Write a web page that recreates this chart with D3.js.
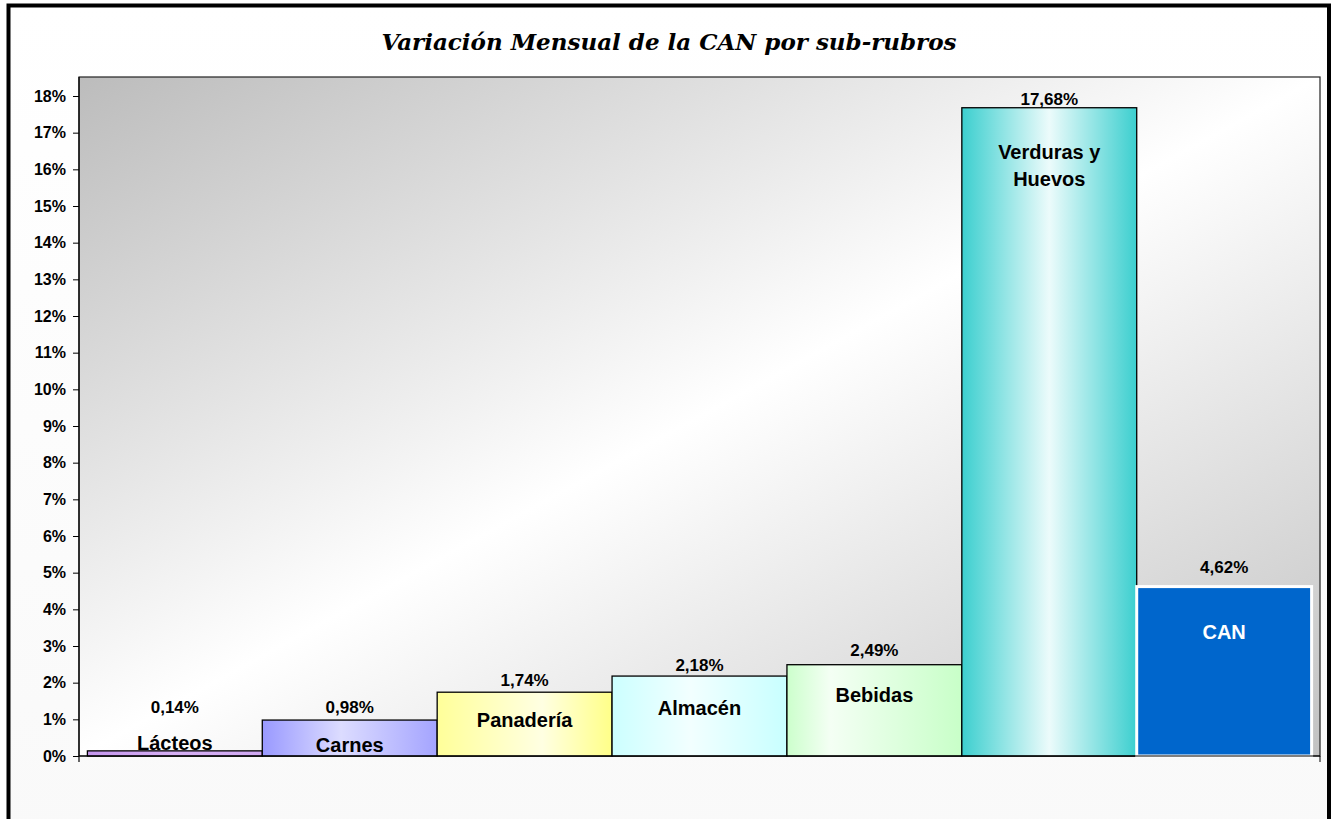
<!DOCTYPE html>
<html>
<head>
<meta charset="utf-8">
<script src="https://cdn.jsdelivr.net/npm/d3@7"></script>
<style>
  body { margin: 0; background: #fff; }
  text { font-family: Arial, "Liberation Sans", sans-serif; font-weight: bold; }
</style>
</head>
<body>
<div id="chart"></div>
<script>
// Datos
const categories = ['Lácteos', 'Carnes', 'Panadería', 'Almacén', 'Bebidas', 'Verduras y Huevos', 'CAN'];
const values = [0.14, 0.98, 1.74, 2.18, 2.49, 17.68, 4.62];
const yTicks = [0, 1, 2, 3, 4, 5, 6, 7, 8, 9, 10, 11, 12, 13, 14, 15, 16, 17, 18];
const title = 'Variación Mensual de la CAN por sub-rubros';

// Estilos por barra (gradientes horizontales)
const barFills = [
    [[0, '#c596ee'], [0.5, '#d6b0f4'], [1, '#d0a8f2']],
    [[0, '#9999ff'], [0.45, '#dcdcff'], [1, '#a4a4ff']],
    [[0, '#ffff99'], [0.6, '#ffffe2'], [1, '#ffff88']],
    [[0, '#ccffff'], [0.45, '#f2ffff'], [1, '#c8ffff']],
    [[0, '#ccffcc'], [0.25, '#f4fff4'], [1, '#c8ffc8']],
    [[0, '#3ccfcf'], [0.5, '#ecfbfb'], [1, '#3ccfcf']],
    null
];
const nameDy = [-1, 32, 35, 39, 37, 51, 52];
const valueDy = [-38, -7, -6, -5, -9, -3, -14];

const W = 1335, H = 819;
const plot = { left: 79, right: 1320, top: 77, bottom: 756 };

const svg = d3.select('#chart')
    .append('svg')
    .attr('width', W)
    .attr('height', H);

const defs = svg.append('defs');

// fondo del gráfico
const bgGrad = defs.append('linearGradient')
    .attr('id', 'bgGrad')
    .attr('x1', 0).attr('y1', 0).attr('x2', 0).attr('y2', 1);
bgGrad.append('stop').attr('offset', 0).attr('stop-color', '#ffffff');
bgGrad.append('stop').attr('offset', 1).attr('stop-color', '#f9f9f9');

// fondo del área de trazado (diagonal gris - blanco - gris)
const plotGrad = defs.append('linearGradient')
    .attr('id', 'plotGrad')
    .attr('x1', 0).attr('y1', 0).attr('x2', 1).attr('y2', 1);
plotGrad.append('stop').attr('offset', 0).attr('stop-color', '#bcbcbc');
plotGrad.append('stop').attr('offset', 0.5).attr('stop-color', '#ffffff');
plotGrad.append('stop').attr('offset', 1).attr('stop-color', '#c2c2c2');

barFills.forEach((stops, i) => {
    if (!stops) return;
    const g = defs.append('linearGradient')
        .attr('id', 'bar' + i)
        .attr('x1', 0).attr('y1', 0).attr('x2', 1).attr('y2', 0);
    stops.forEach(s => g.append('stop').attr('offset', s[0]).attr('stop-color', s[1]));
});

// marco exterior
svg.append('rect')
    .attr('x', 8.5)
    .attr('y', 5.5)
    .attr('width', 1320.5)
    .attr('height', 840)
    .attr('fill', 'url(#bgGrad)')
    .attr('stroke', '#000')
    .attr('stroke-width', 4);

// título
svg.append('text')
    .attr('x', 669)
    .attr('y', 50)
    .attr('text-anchor', 'middle')
    .style('font-family', '"DejaVu Serif", serif')
    .style('font-style', 'italic')
    .style('font-size', '23px')
    .text(title);

// escalas
const x = d3.scaleBand()
    .domain(categories)
    .range([plot.left, plot.right])
    .paddingInner(0)
    .paddingOuter(0.048);

const y = d3.scaleLinear()
    .domain([0, 18])
    .range([plot.bottom, 96]);

// área de trazado
svg.append('rect')
    .attr('x', plot.left)
    .attr('y', plot.top)
    .attr('width', plot.right - plot.left)
    .attr('height', plot.bottom - plot.top)
    .attr('fill', 'url(#plotGrad)')
    .attr('stroke', '#222')
    .attr('stroke-width', 1.2);

// eje Y
const yAxis = svg.append('g')
    .attr('transform', `translate(${plot.left},0)`)
    .call(d3.axisLeft(y)
        .tickValues(yTicks)
        .tickFormat(d => d + '%')
        .tickSize(6)
        .tickSizeOuter(0)
        .tickPadding(7));
yAxis.select('.domain').remove();
yAxis.selectAll('line').attr('stroke', '#000');
yAxis.selectAll('text')
    .attr('fill', '#000')
    .style('font-size', '16px')
    .style('font-family', 'Arial, "Liberation Sans", sans-serif')
    .style('font-weight', 'bold');

// barras
svg.selectAll('.bar')
    .data(values)
    .join('rect')
    .attr('class', 'bar')
    .attr('x', (d, i) => x(categories[i]))
    .attr('y', d => y(d))
    .attr('width', x.bandwidth())
    .attr('height', d => y(0) - y(d))
    .attr('fill', (d, i) => barFills[i] ? `url(#bar${i})` : '#0066cc')
    .attr('stroke', (d, i) => barFills[i] ? '#000' : '#fff')
    .attr('stroke-width', (d, i) => barFills[i] ? 1.3 : 3);

// línea de eje y ejes
svg.append('line')
    .attr('x1', plot.left).attr('x2', plot.right)
    .attr('y1', y(0)).attr('y2', y(0))
    .attr('stroke', '#000').attr('stroke-width', 1.2);
svg.append('line')
    .attr('x1', plot.left).attr('x2', plot.left)
    .attr('y1', plot.top).attr('y2', y(0) + 6)
    .attr('stroke', '#000').attr('stroke-width', 1.2);
svg.append('line')
    .attr('x1', plot.right).attr('x2', plot.right)
    .attr('y1', y(0)).attr('y2', y(0) + 6)
    .attr('stroke', '#000').attr('stroke-width', 1);

// etiquetas de valor
svg.selectAll('.value-label')
    .data(values)
    .join('text')
    .attr('class', 'value-label')
    .attr('x', (d, i) => x(categories[i]) + x.bandwidth() / 2)
    .attr('y', (d, i) => y(d) + valueDy[i])
    .attr('text-anchor', 'middle')
    .style('font-size', '17px')
    .text(d => d.toFixed(2).replace('.', ',') + '%');

// nombres de las categorías
categories.forEach((c, i) => {
    const t = svg.append('text')
        .attr('class', 'cat-label')
        .attr('x', x(c) + x.bandwidth() / 2)
        .attr('y', y(values[i]) + nameDy[i])
        .attr('text-anchor', 'middle')
        .attr('fill', barFills[i] ? '#000' : '#fff')
        .style('font-size', '20px');
    const parts = c === 'Verduras y Huevos' ? ['Verduras y', 'Huevos'] : [c];
    parts.forEach((p, k) => {
        t.append('tspan')
            .attr('x', x(c) + x.bandwidth() / 2)
            .attr('dy', k === 0 ? 0 : 27)
            .text(p);
    });
});
</script>
</body>
</html>
